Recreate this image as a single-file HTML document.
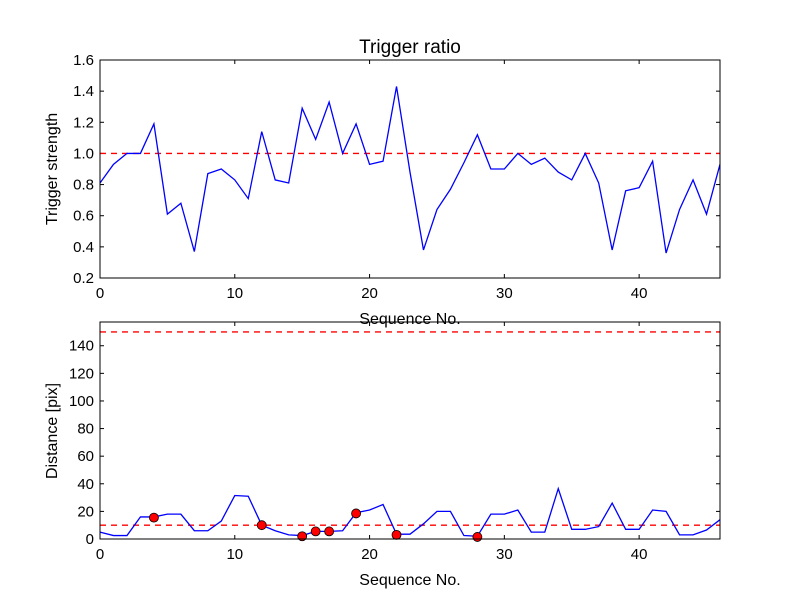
<!DOCTYPE html>
<html><head><meta charset="utf-8"><style>
body{margin:0;background:#fff;}
svg text{font-family:"Liberation Sans",sans-serif;fill:#000;}
</style></head><body>
<svg id="c" width="800" height="600" viewBox="0 0 800 600">
<rect width="800" height="600" fill="#fff"/>
</svg>
<script>
const seqTop = [0,1,2,3,4,5,6,7,8,9,10,11,12,13,14,15,16,17,18,19,20,21,22,23,24,25,26,27,28,29,30,31,32,33,34,35,36,37,38,39,40,41,42,43,44,45,46];
const strength = [0.81,0.93,1.0,1.0,1.19,0.61,0.68,0.37,0.87,0.90,0.83,0.71,1.14,0.83,0.81,1.29,1.09,1.33,1.0,1.19,0.93,0.95,1.43,0.88,0.38,0.64,0.77,0.94,1.12,0.90,0.90,1.0,0.93,0.97,0.88,0.83,1.0,0.81,0.38,0.76,0.78,0.95,0.36,0.64,0.83,0.61,0.93];
const distance = [5,2.5,2.5,16,16,18,18,6,6,13,31.5,31,10,6,3,2.5,5.5,5.5,6,19,21,25,3.5,3.5,11,20,20,2.5,2,18,18,21,5,5,36.5,7,7,9,26,7,7,21,20,3,3,6.5,14];
const markerX = [4,12,15,16,17,19,22,28];
const markerY = [15.5,10,2,5.5,5.5,18.5,3,1.5];
const topTicks = [0.2,0.4,0.6,0.8,1.0,1.2,1.4,1.6];
const botTicks = [0,20,40,60,80,100,120,140];
const xTicks = [0,10,20,30,40];
const strengthThreshold = 1.0;
const distThresholds = [10,150];

const NS='http://www.w3.org/2000/svg';
const svg=document.getElementById('c');
function mk(t,a,p){const e=document.createElementNS(NS,t);for(const k in a)e.setAttribute(k,a[k]);(p||svg).appendChild(e);return e;}
const L=100,R=720;
const sx=v=>L+(v-0)/46*(R-L);
const topY=v=>278-(v-0.2)/1.4*218;
const botY=v=>539-v/157.2*217;

function axes(name,yT,yB,ticks,yf,fmt,ylabel,ycenter){
  const g=mk('g',{});
  
  
  ticks.forEach(t=>{
    const y=yf(t);
    mk('line',{x1:L,x2:L+4,y1:y,y2:y,stroke:'#000'},g);
    mk('line',{x1:R,x2:R-4,y1:y,y2:y,stroke:'#000'},g);
    const tx=mk('text',{x:L-6,y:y+5,'text-anchor':'end','font-size':15},g);
    tx.textContent=fmt(t);
    
    
  });
  xTicks.forEach(t=>{
    const x=sx(t);
    mk('line',{x1:x,x2:x,y1:yB,y2:yB-4,stroke:'#000'},g);
    mk('line',{x1:x,x2:x,y1:yT,y2:yT+4,stroke:'#000'},g);
    const tx=mk('text',{x:x,y:yB+20,'text-anchor':'middle','font-size':15},g);
    tx.textContent=t;
    
    
  });
  const xl=mk('text',{x:410,y:yB+46,'text-anchor':'middle','font-size':16},g);
  xl.textContent='Sequence No.';
  
  
  const yl=mk('text',{x:0,y:0,'text-anchor':'middle','font-size':16,transform:`translate(57,${ycenter}) rotate(-90)`},g);
  yl.textContent=ylabel;
  
  
  return g;
}

// top
axes('top-axes',60,278,topTicks,topY,v=>v.toFixed(1),'Trigger strength',169);
let h=mk('line',{x1:L,x2:R,y1:topY(strengthThreshold),y2:topY(strengthThreshold),stroke:'#f00','stroke-width':1.3,'stroke-dasharray':'6,5'});


let p=mk('polyline',{points:seqTop.map((x,i)=>sx(x)+','+topY(strength[i])).join(' '),fill:'none',stroke:'#00f','stroke-width':1.3});


let fr=mk('rect',{x:L,y:60,width:R-L,height:218,fill:'none',stroke:'#000','stroke-width':1});


let ti=mk('text',{x:410,y:53,'text-anchor':'middle','font-size':19});
ti.textContent='Trigger ratio';



// bottom
axes('bottom-axes',322,539,botTicks,botY,v=>v,'Distance [pix]',431);
distThresholds.forEach(t=>{
  const l=mk('line',{x1:L,x2:R,y1:botY(t),y2:botY(t),stroke:'#f00','stroke-width':1.3,'stroke-dasharray':'6,5'});
  
  
});
p=mk('polyline',{points:seqTop.map((x,i)=>sx(x)+','+botY(distance[i])).join(' '),fill:'none',stroke:'#00f','stroke-width':1.3});


markerX.forEach((x,i)=>{
  const c=mk('circle',{cx:sx(x),cy:botY(markerY[i]),r:4.5,fill:'#f00',stroke:'#000','stroke-width':0.8});
  
  
});
fr=mk('rect',{x:L,y:322,width:R-L,height:217,fill:'none',stroke:'#000','stroke-width':1});


</script>
</body></html>
